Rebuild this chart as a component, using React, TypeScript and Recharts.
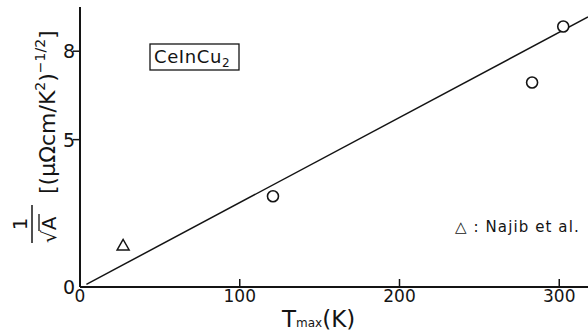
import React from "react"
import { ComposedChart, XAxis, YAxis, Line, Scatter, Customized, Label } from "recharts"

// CeInCu2: 1/sqrt(A) vs T_max
const tmaxValues = [120.8, 283, 302.5]
const invSqrtA = [3.08, 6.94, 8.84]
const najibTmax = [27]
const najibInvSqrtA = [1.41]
const fitTmax = [4, 318]
const fitInvSqrtA = [0.09, 9.16]
const xTicks = [0, 100, 200, 300]
const yTicks = [0, 5, 8]
const topTicks = [100, 200, 300]
const rightTicks = [5, 8]

const ink = "#141414"
const font = "'DejaVu Sans', sans-serif"

const ownData = tmaxValues.map((t, i) => ({ x: t, y: invSqrtA[i] }))
const najibData = najibTmax.map((t, i) => ({ x: t, y: najibInvSqrtA[i] }))
const fitData = fitTmax.map((t, i) => ({ x: t, y: fitInvSqrtA[i] }))

const BottomTick = ({ x, y, payload }: any) => (
    <g>
        {payload.value !== 0 && <line x1={x} y1={y} x2={x} y2={y - 8} stroke={ink} strokeWidth={1.5} />}
        <text x={x} y={y + 15} textAnchor="middle" fontSize={17} fontFamily={font} fill={ink}>
            {payload.value}
        </text>
    </g>
)

const LeftTick = ({ x, y, payload }: any) => (
    <g>
        {payload.value !== 0 && <line x1={x - 7} y1={y} x2={x} y2={y} stroke={ink} strokeWidth={1.5} />}
        <text x={x - 11} y={y + 7} textAnchor="middle" fontSize={19} fontFamily={font} fill={ink}>
            {payload.value}
        </text>
    </g>
)

const TopTick = ({ x, y }: any) => <line x1={x} y1={y} x2={x} y2={y + 8} stroke={ink} strokeWidth={1.5} />
const RightTick = ({ x, y }: any) => <line x1={x - 7} y1={y} x2={x} y2={y} stroke={ink} strokeWidth={1.5} />

const CircleMark = ({ cx, cy }: any) => (
    <circle cx={cx} cy={cy} r={5.5} fill="#fff" stroke={ink} strokeWidth={1.6} />
)
const TriangleMark = ({ cx, cy }: any) => (
    <polygon
        points={`${cx},${cy - 6} ${cx - 6},${cy + 4.5} ${cx + 6},${cy + 4.5}`}
        fill="#fff"
        stroke={ink}
        strokeWidth={1.5}
    />
)

const XTitle = () => (
    <text x={282} y={327} fontFamily={font} fill={ink}>
        <tspan fontSize={23}>T</tspan>
        <tspan fontSize={12}>max</tspan>
        <tspan fontSize={23}>(K)</tspan>
    </text>
)

// rotated frame: screen x = v, screen y = -u
const YTitle = () => (
    <g>
        <g transform="rotate(-90)">
            <text x={-224} y={27} textAnchor="middle" fontSize={20} fontFamily={font} fill={ink}>1</text>
            <text x={-243} y={56} fontSize={20} fontFamily={font} fill={ink}>
                √<tspan>A</tspan>
            </text>
            <line x1={-231} y1={39} x2={-214} y2={39} stroke={ink} strokeWidth={1.3} />
            <text x={-194} y={55} fontFamily={font} fill={ink}>
                <tspan fontSize={22}>[(μΩcm/K</tspan>
                <tspan fontSize={14} dy={-10}>2</tspan>
                <tspan fontSize={22} dy={10}>)</tspan>
                <tspan fontSize={14} dy={-10}>−1/2</tspan>
                <tspan fontSize={22} dy={10}>]</tspan>
            </text>
        </g>
        <line x1={32} y1={205} x2={32} y2={243} stroke={ink} strokeWidth={1.5} />
    </g>
)

const Annotations = () => (
    <g>
        <rect x={150} y={44} width={89} height={26} fill="none" stroke={ink} strokeWidth={1.3} />
        <text x={154} y={63} fontSize={18} letterSpacing={0.6} fontFamily={font} fill={ink}>
            CeInCu<tspan fontSize={12} dy={4}>2</tspan>
        </text>
        <text x={455} y={232} fontSize={15} letterSpacing={1.1} fontFamily={font} fill={ink}>
            △ : Najib et al.
        </text>
    </g>
)

export default function App() {
    return (
        <div style={{ position: "fixed", left: 0, top: 0, width: 588, height: 333, overflow: "hidden", background: "#fff" }}>
            <ComposedChart width={600} height={333} margin={{ top: 7, right: 12, bottom: 0, left: 0 }}>
                <XAxis
                    dataKey="x"
                    type="number"
                    domain={[0, 318]}
                    ticks={xTicks}
                    height={46}
                    tickSize={0}
                    tickMargin={0}
                    tick={<BottomTick />}
                    axisLine={{ stroke: ink, strokeWidth: 2 }}
                    allowDataOverflow
                >
                    <Label content={<XTitle />} />
                </XAxis>
                <XAxis
                    xAxisId="top"
                    orientation="top"
                    type="number"
                    domain={[0, 318]}
                    ticks={topTicks}
                    height={0}
                    tickSize={0}
                    tickMargin={0}
                    tick={<TopTick />}
                    axisLine={{ stroke: ink, strokeWidth: 2 }}
                    allowDataOverflow
                />
                <YAxis
                    dataKey="y"
                    type="number"
                    domain={[0, 9.5]}
                    ticks={yTicks}
                    width={80}
                    tickSize={0}
                    tickMargin={0}
                    tick={<LeftTick />}
                    axisLine={{ stroke: ink, strokeWidth: 2 }}
                    allowDataOverflow
                >
                    <Label content={<YTitle />} />
                </YAxis>
                <YAxis
                    yAxisId="right"
                    orientation="right"
                    type="number"
                    domain={[0, 9.5]}
                    ticks={rightTicks}
                    width={0}
                    tickSize={0}
                    tickMargin={0}
                    tick={<RightTick />}
                    axisLine={{ stroke: ink, strokeWidth: 2 }}
                    allowDataOverflow
                />
                <Line
                    data={fitData}
                    dataKey="y"
                    type="linear"
                    stroke={ink}
                    strokeWidth={1.5}
                    dot={false}
                    isAnimationActive={false}
                />
                <Scatter data={ownData} dataKey="y" shape={<CircleMark />} isAnimationActive={false} />
                <Scatter data={najibData} dataKey="y" shape={<TriangleMark />} isAnimationActive={false} />
                <Customized component={<Annotations />} />
            </ComposedChart>
        </div>
    )
}
